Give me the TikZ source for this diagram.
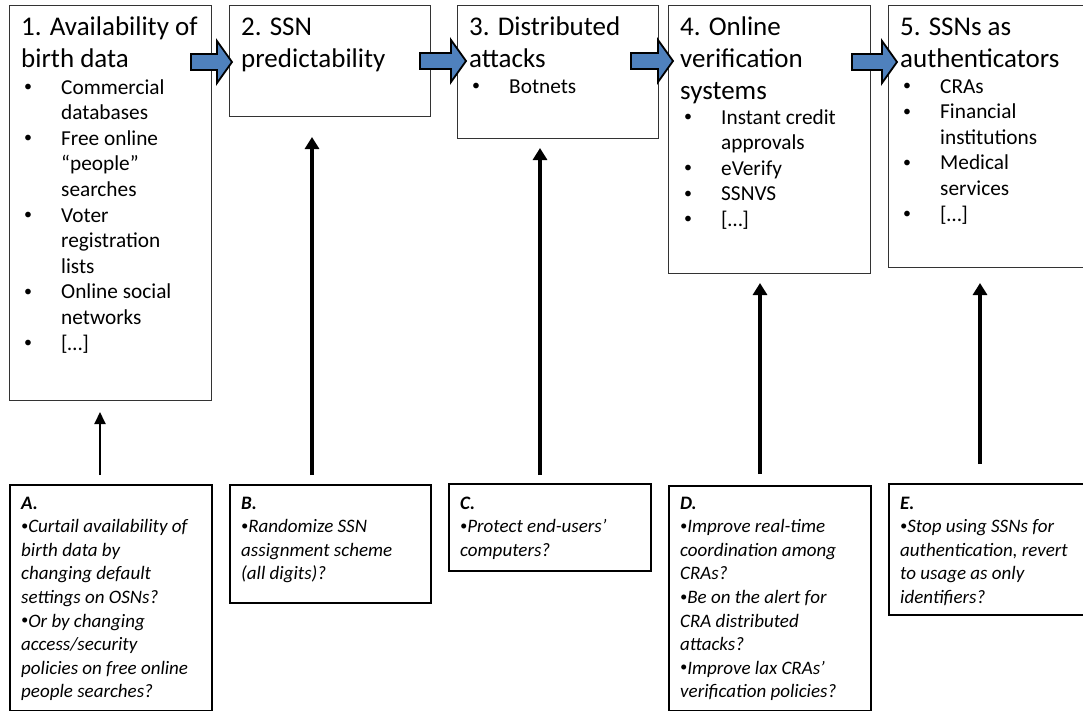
\documentclass[tikz,border=0pt]{standalone}
\usepackage{fontspec}
\setmainfont{Carlito}
\usetikzlibrary{arrows.meta}
\definecolor{arrowblue}{HTML}{4F81BD}
\newcommand\mylines[1]{\begin{tabular}[t]{@{}l@{}}#1\end{tabular}}
\newcommand\mybul[1]{\begin{tabular}[t]{@{}p{37pt}@{}l@{}}#1\end{tabular}}
\newcommand\bu{\raisebox{0.12em}{\scalebox{0.75}{\textbullet}}}
\newcommand\barrow[3]{\draw[blk] (#1,#3-8) -- (#2-15,#3-8) -- (#2-15,#3-21) -- (#2,#3) -- (#2-15,#3+21) -- (#2-15,#3+8) -- (#1,#3+8) -- cycle;}
\tikzset{
  topbox/.style={draw=black!80, line width=1.3pt, anchor=north west, inner sep=0pt},
  botbox/.style={draw=black, line width=1.5pt, anchor=north west, inner sep=0pt},
  ttl/.style={anchor=base west, inner sep=0pt, font=\fontsize{27}{32}\selectfont},
  lst/.style={anchor=base west, inner sep=0pt, font=\fontsize{21.3}{25.6}\selectfont},
  qtx/.style={anchor=base west, inner sep=0pt, font=\fontsize{19}{23.6}\selectfont\itshape},
  blk/.style={draw=black, line width=1.8pt, fill=arrowblue, line join=miter},
  uparrow/.style={-{Triangle[length=12pt,width=14pt]}, line width=3.2pt},
  thinup/.style={-{Triangle[length=12pt,width=11pt]}, line width=2pt},
}
\begin{document}
\begin{tikzpicture}[x=1pt,y=-1pt]
\useasboundingbox (0,0) rectangle (1083,710);
\clip (0,0) rectangle (1083,710);
\fill[white] (0,0) rectangle (1083,710);

% top boxes
\node[topbox, minimum width=202pt, minimum height=395pt] (b1) at (9,5) {};
\node[topbox, minimum width=201pt, minimum height=111pt] (b2) at (229,5) {};
\node[topbox, minimum width=201pt, minimum height=133pt] (b3) at (457,5) {};
\node[topbox, minimum width=202pt, minimum height=268pt] (b4) at (668,5) {};
\node[topbox, minimum width=210pt, minimum height=262pt] (b5) at (888,5) {};

% block arrows
\barrow{191}{232}{62}
\barrow{420}{466}{61}
\barrow{631}{673}{61}
\barrow{852}{897}{62}

% top texts
\node[ttl] (t1) at (21,35) {\mylines{1. Availability of\\ birth data}};
\node[lst] (l1) at (24,94) {\mybul{\bu & Commercial\\ & databases\\ \bu & Free online\\ & “people”\\ & searches\\ \bu & Voter\\ & registration\\ & lists\\ \bu & Online social\\ & networks\\ \bu & [\dots]}};
\node[ttl] (t2) at (241,35) {\mylines{2. SSN\\ predictability}};
\node[ttl] (t3) at (469,35) {\mylines{3. Distributed\\ attacks}};
\node[lst] (l3) at (472,93) {\mybul{\bu & Botnets}};
\node[ttl] (t4) at (680,35) {\mylines{4. Online\\ verification\\ systems}};
\node[lst] (l4) at (684,124) {\mybul{\bu & Instant credit\\ & approvals\\ \bu & eVerify\\ \bu & SSNVS\\ \bu & [\dots]}};
\node[ttl] (t5) at (900,35) {\mylines{5. SSNs as\\ authenticators}};
\node[lst] (l5) at (903,93) {\mybul{\bu & CRAs\\ \bu & Financial\\ & institutions\\ \bu & Medical\\ & services\\ \bu & [\dots]}};

% bottom boxes
\node[botbox, minimum width=202pt, minimum height=226pt] (qa) at (9,484) {};
\node[botbox, minimum width=201pt, minimum height=118pt] (qb) at (229,484) {};
\node[botbox, minimum width=202pt, minimum height=87pt] (qc) at (448,483) {};
\node[botbox, minimum width=202pt, minimum height=225pt] (qd) at (668,485) {};
\node[botbox, minimum width=210pt, minimum height=131pt] (qe) at (888,483) {};

\node[qtx] (ta) at (21,509) {\mylines{\textbf{A.}\\ \bu Curtail availability of\\ birth data by\\ changing default\\ settings on OSNs?\\ \bu Or by changing\\ access/security\\ policies on free online\\ people searches?}};
\node[qtx] (tb) at (241,509) {\mylines{\textbf{B.}\\ \bu Randomize SSN\\ assignment scheme\\ (all digits)?}};
\node[qtx] (tc) at (460,509) {\mylines{\textbf{C.}\\ \bu Protect end-users’\\ computers?}};
\node[qtx] (td) at (680,509) {\mylines{\textbf{D.}\\ \bu Improve real-time\\ coordination among\\ CRAs?\\ \bu Be on the alert for\\ CRA distributed\\ attacks?\\ \bu Improve lax CRAs’\\ verification policies?}};
\node[qtx] (te) at (900,509) {\mylines{\textbf{E.}\\ \bu Stop using SSNs for\\ authentication, revert\\ to usage as only\\ identifiers?}};

% vertical arrows
\coordinate (a0) at (100,475); \coordinate (a1) at (100,412);
\coordinate (bb0) at (312,475); \coordinate (bb1) at (312,137);
\coordinate (c0) at (540,475); \coordinate (c1) at (540,148);
\coordinate (d0) at (760,474); \coordinate (d1) at (760,283);
\coordinate (e0) at (980,464); \coordinate (e1) at (980,283);
\draw[thinup] (a0) -- (a1);
\draw[uparrow] (bb0) -- (bb1);
\draw[uparrow] (c0) -- (c1);
\draw[uparrow] (d0) -- (d1);
\draw[uparrow] (e0) -- (e1);
\end{tikzpicture}
\end{document}
